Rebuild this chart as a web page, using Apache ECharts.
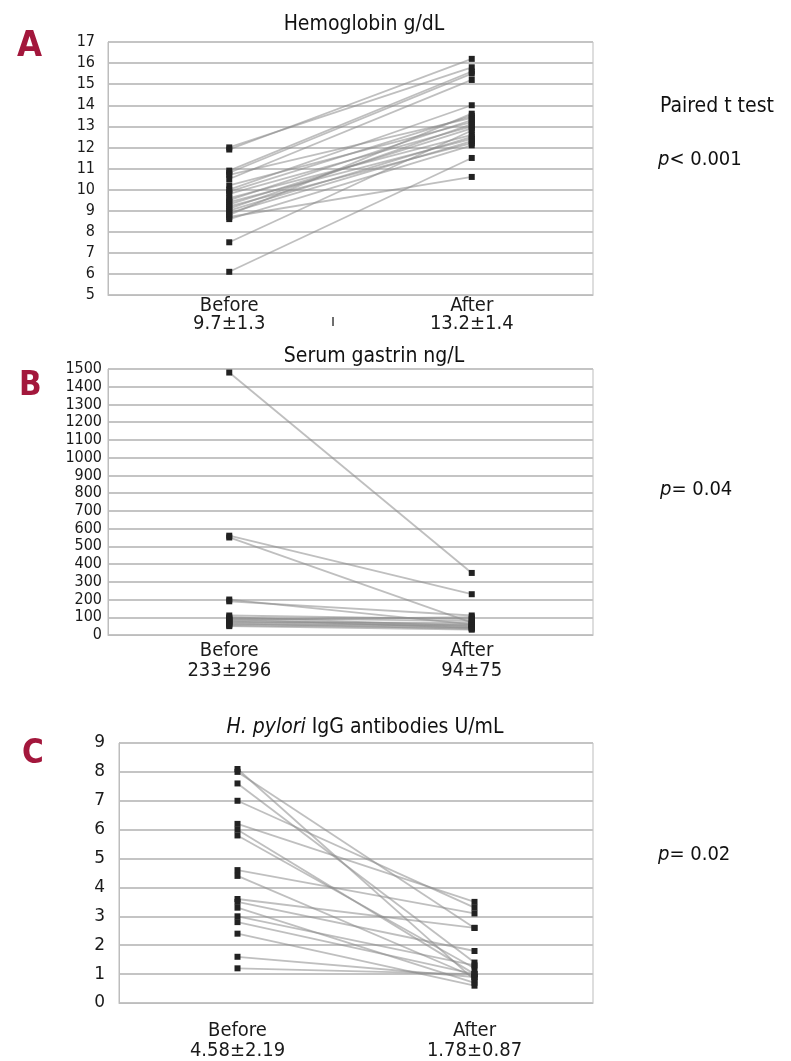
<!DOCTYPE html>
<html><head><meta charset="utf-8">
<script src="https://cdn.jsdelivr.net/npm/echarts@6/dist/echarts.min.js"></script>
<style>html,body{margin:0;padding:0;background:#fff}#c{width:791px;height:1061px}</style>
</head><body><div id="c"></div>
<script>
// Panel A: Hemoglobin g/dL
var hbBefore = [12.0, 11.9, 10.9, 10.8, 10.7, 10.5, 10.2, 10.0, 9.9, 9.8, 9.6, 9.5, 9.4, 9.3, 9.2, 9.1, 9.0, 8.9, 8.8, 8.7, 8.6, 7.5, 6.1];
var hbAfter  = [15.8, 16.2, 15.6, 15.5, 13.4, 15.2, 13.2, 14.0, 13.5, 13.0, 12.6, 13.3, 12.4, 12.9, 12.2, 13.1, 12.5, 12.3, 13.6, 10.6, 12.1, 12.8, 11.5];
var hbCats = ['Before\n9.7±1.3', 'After\n13.2±1.4'];
// Panel B: Serum gastrin ng/L
var gaBefore = [1480, 560, 550, 200, 190, 110, 100, 95, 90, 85, 80, 75, 70, 65, 60, 55, 50];
var gaAfter  = [350, 230, 70, 60, 110, 90, 50, 80, 40, 100, 60, 45, 70, 35, 55, 40, 30];
var gaCats = ['Before\n233±296', 'After\n94±75'];
// Panel C: H. pylori IgG antibodies U/mL
var hpBefore = [8.1, 8.0, 7.6, 7.0, 6.2, 6.0, 5.8, 4.6, 4.4, 3.6, 3.5, 3.3, 3.0, 2.8, 2.4, 1.6, 1.2];
var hpAfter  = [0.8, 2.6, 1.4, 3.3, 3.5, 1.0, 1.2, 3.1, 0.9, 2.6, 1.8, 0.7, 1.3, 1.0, 0.6, 0.9, 1.0];
var hpCats = ['Before\n4.58±2.19', 'After\n1.78±0.87'];

var COND = "'DejaVu Sans Condensed','Liberation Sans Narrow',sans-serif";
var NARROWB = "'Liberation Sans Narrow','DejaVu Sans Condensed',sans-serif";
var REG = "'DejaVu Sans','Liberation Sans',sans-serif";
var chart = echarts.init(document.getElementById('c'), null, {renderer:'canvas'});

var grids = [
  {left:108, top:42, width:485, height:253},
  {left:108, top:369, width:485, height:266},
  {left:119, top:743, width:474, height:269}
];
var yCfg = [
  {min:5, max:17, interval:1, fs:16, ff:COND, margin:13},
  {min:0, max:1500, interval:100, fs:16, ff:COND, margin:6},
  {min:0, max:9, interval:1, fs:17, ff:REG, margin:14}
];
var xCfg = [
  {margin:2, lh:18},
  {margin:6, lh:20},
  {margin:18, lh:20}
];
var cats = [hbCats, gaCats, hpCats];
var pairs = [[hbBefore, hbAfter], [gaBefore, gaAfter], [hpBefore, hpAfter]];

var series = [];
pairs.forEach(function(p, gi){
  p[0].forEach(function(b, i){
    series.push({
      type:'line', xAxisIndex:gi, yAxisIndex:gi,
      data:[b, p[1][i]],
      symbol:'rect', symbolSize:6,
      itemStyle:{color:'#222'},
      lineStyle:{color:'#8a8a8a', width:1.8, opacity:0.55},
      silent:true, animation:false, z:3
    });
  });
});

function ptext(x, y, rest){
  return {type:'text', x:x, y:y, style:{
    text:'{i|p}' + rest,
    rich:{i:{fontStyle:'italic', fontFamily:COND, fontSize:20, fill:'#111'}},
    font:'20px ' + COND, fill:'#111', verticalAlign:'middle'}};
}

var option = {
  animation:false,
  grid: grids.map(function(g){ return Object.assign({show:true, borderColor:'#bdbdbd', borderWidth:1, backgroundColor:'rgba(0,0,0,0)'}, g); }),
  xAxis: cats.map(function(c, i){ return {
    type:'category', gridIndex:i, data:c, boundaryGap:true,
    axisLine:{lineStyle:{color:'#bdbdbd'}}, axisTick:{show:false},
    axisLabel:{color:'#1a1a1a', fontFamily:COND, fontSize:20, lineHeight:xCfg[i].lh, margin:xCfg[i].margin, interval:0}
  };}),
  yAxis: yCfg.map(function(y, i){ return {
    type:'value', gridIndex:i, min:y.min, max:y.max, interval:y.interval,
    axisLine:{show:true, lineStyle:{color:'#bdbdbd'}}, axisTick:{show:false},
    axisLabel:{color:'#1a1a1a', fontFamily:y.ff, fontSize:y.fs, margin:y.margin,
      formatter:function(v){ return String(v); }},
    splitLine:{show:true, lineStyle:{color:'#c4c4c4', width:2}}
  };}),
  series: series,
  graphic: [
    {type:'text', x:17, y:47, style:{text:'A', font:'bold 36px '+NARROWB, fill:'#a3173c', verticalAlign:'middle'}},
    {type:'text', x:19, y:386, style:{text:'B', font:'bold 33px '+NARROWB, fill:'#a3173c', verticalAlign:'middle'}},
    {type:'text', x:22, y:754, style:{text:'C', font:'bold 33px '+NARROWB, fill:'#a3173c', verticalAlign:'middle'}},
    {type:'text', x:364, y:25, style:{text:'Hemoglobin g/dL', font:'21px '+COND, fill:'#111', align:'center', verticalAlign:'middle'}},
    {type:'text', x:374, y:357, style:{text:'Serum gastrin ng/L', font:'21px '+COND, fill:'#111', align:'center', verticalAlign:'middle'}},
    {type:'text', x:365, y:728, style:{
      text:'{i|H. pylori} IgG antibodies U/mL',
      rich:{i:{fontStyle:'italic', fontFamily:COND, fontSize:21, fill:'#111'}},
      font:'21px '+COND, fill:'#111', align:'center', verticalAlign:'middle'}},
    {type:'text', x:333, y:322, style:{text:'ı', font:'16px '+COND, fill:'#222', align:'center', verticalAlign:'middle'}},
    {type:'text', x:660, y:107, style:{text:'Paired t test', font:'21px '+COND, fill:'#111', verticalAlign:'middle'}},
    ptext(658, 160, '< 0.001'),
    ptext(660, 490, '= 0.04'),
    ptext(658, 855, '= 0.02')
  ]
};
chart.setOption(option);
</script></body></html>
